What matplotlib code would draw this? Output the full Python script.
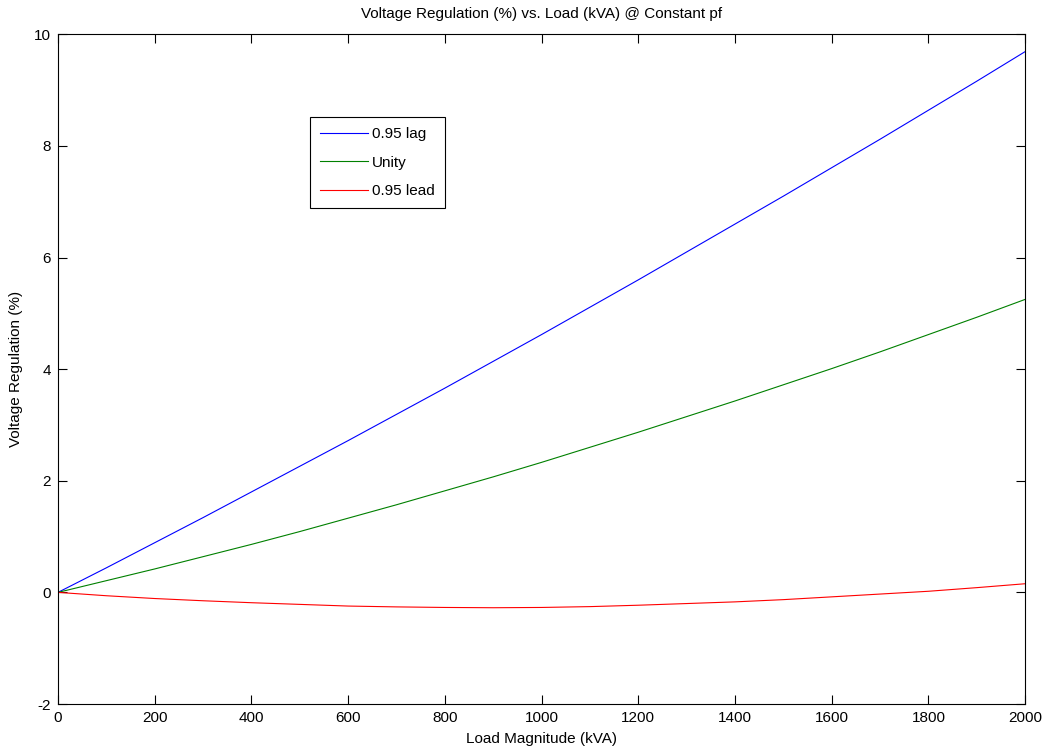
import matplotlib
matplotlib.use("Agg")
import matplotlib.pyplot as plt

plt.rcParams['font.family'] = ['Liberation Sans', 'DejaVu Sans']
plt.rcParams['axes.unicode_minus'] = False

# load in kVA and regulation (%)
load_kva = [0, 100, 200, 300, 400, 500, 600, 700, 800, 900, 1000,
            1100, 1200, 1300, 1400, 1500, 1600, 1700, 1800, 1900, 2000]
reg_lag = [0, 0.44, 0.89, 1.34, 1.80, 2.26, 2.72, 3.19, 3.66, 4.14, 4.62,
           5.11, 5.60, 6.10, 6.60, 7.10, 7.61, 8.12, 8.64, 9.16, 9.69]
reg_unity = [0, 0.21, 0.42, 0.64, 0.86, 1.09, 1.33, 1.57, 1.82, 2.07, 2.33,
             2.60, 2.87, 3.15, 3.43, 3.72, 4.01, 4.31, 4.62, 4.93, 5.25]
reg_lead = [0, -0.06, -0.11, -0.15, -0.185, -0.215, -0.245, -0.26, -0.27, -0.275, -0.27,
            -0.255, -0.23, -0.20, -0.17, -0.13, -0.08, -0.03, 0.02, 0.085, 0.155]

fig = plt.figure(figsize=(10.45, 7.46), dpi=100)
ax = fig.add_axes([0.0555, 0.0563, 0.9255, 0.8977])

ax.plot(load_kva, reg_lag, color='#0000ff', lw=0.8, label='0.95 lag')
ax.plot(load_kva, reg_unity, color='#008000', lw=0.8, label='Unity')
ax.plot(load_kva, reg_lead, color='#ff0000', lw=0.8, label='0.95 lead')

ax.set_xlim(0, 2000)
ax.set_ylim(-2, 10)
ax.set_xticks(range(0, 2001, 200))
ax.set_yticks(range(-2, 11, 2))
ax.tick_params(direction='in', top=True, right=True, length=6.5, width=0.8,
               labelsize=11, pad=5)
for s in ax.spines.values():
    s.set_linewidth(0.8)

ax.set_title('Voltage Regulation (%) vs. Load (kVA) @ Constant pf', fontsize=11, pad=12)
ax.set_xlabel('Load Magnitude (kVA)', fontsize=11, labelpad=5)
ax.set_ylabel('Voltage Regulation (%)', fontsize=11, labelpad=8)

leg = ax.legend(loc='upper left', bbox_to_anchor=(0.261, 0.876), fontsize=11,
                fancybox=False, framealpha=1, edgecolor='black',
                handlelength=3.1, handletextpad=0.3, labelspacing=0.95,
                borderpad=0.65, borderaxespad=0)
leg.get_frame().set_linewidth(0.8)

fig.savefig('out.png', dpi=100)
